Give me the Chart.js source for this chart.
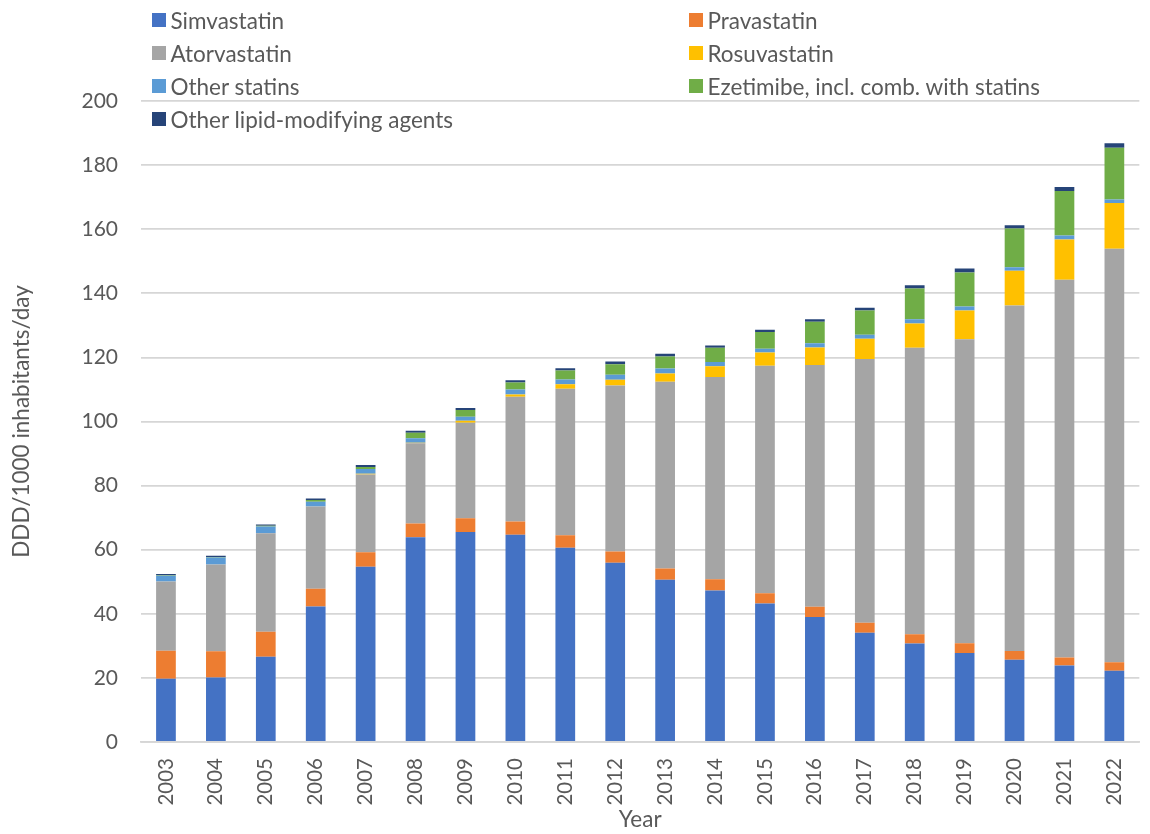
<!DOCTYPE html>
<html>
<head>
<meta charset="utf-8">
<script src="https://cdn.jsdelivr.net/npm/chart.js@4"></script>
<style>
  body { margin: 0; overflow: hidden; background: #fff; font-family: Lato, sans-serif; }
  #wrap { position: relative; width: 1155px; height: 834px; }
  #chart { position: absolute; left: 0; top: 0; }
  .leg { position: absolute; display: flex; align-items: center; color: #595959; font-size: 22.5px; white-space: nowrap; height: 30px; }
  .leg span.box { width: 13.5px; height: 13.5px; margin-right: 5px; display: inline-block; }
</style>
</head>
<body>
<div id="wrap">
  <canvas id="chart" width="1155" height="834"></canvas>
  <div id="legend"></div>
</div>
<script>
// statin use, DDD/1000 inhabitants/day
const years = ['2003','2004','2005','2006','2007','2008','2009','2010','2011','2012',
               '2013','2014','2015','2016','2017','2018','2019','2020','2021','2022'];

const simvastatin   = [19.7, 20.1, 26.6, 42.3, 54.7, 63.9, 65.5, 64.7, 60.6, 55.9, 50.6, 47.3, 43.2, 39.0, 34.1, 30.7, 27.8, 25.7, 23.9, 22.2];
const pravastatin   = [8.8, 8.2, 7.8, 5.5, 4.5, 4.3, 4.3, 4.1, 3.9, 3.5, 3.5, 3.5, 3.2, 3.2, 3.1, 2.9, 3.0, 2.7, 2.5, 2.7];
const atorvastatin  = [21.6, 27.1, 30.7, 25.7, 24.3, 25.0, 29.8, 38.9, 45.7, 51.8, 58.3, 63.1, 71.0, 75.4, 82.3, 89.4, 94.9, 107.8, 117.8, 129.0];
const rosuvastatin  = [0, 0, 0, 0, 0.2, 0.2, 0.6, 0.7, 1.4, 1.8, 2.6, 3.3, 4.1, 5.5, 6.3, 7.6, 8.9, 10.8, 12.6, 14.3];
const otherStatins  = [1.8, 2.2, 2.1, 1.5, 1.5, 1.4, 1.3, 1.6, 1.5, 1.6, 1.5, 1.4, 1.2, 1.3, 1.3, 1.3, 1.3, 1.1, 1.2, 1.1];
const ezetimibe     = [0.1, 0.1, 0.3, 0.5, 0.6, 1.7, 2.1, 2.2, 2.8, 3.3, 3.8, 4.4, 5.2, 6.7, 7.5, 9.6, 10.6, 12.1, 13.9, 16.1];
const otherLipid    = [0.4, 0.4, 0.4, 0.5, 0.6, 0.6, 0.6, 0.7, 0.7, 0.8, 0.8, 0.7, 0.7, 0.8, 0.9, 1.0, 1.2, 1.0, 1.3, 1.4];

const yTicks = [0, 20, 40, 60, 80, 100, 120, 140, 160, 180, 200];

const series = [
  { label: 'Simvastatin', data: simvastatin, color: '#4472C4' },
  { label: 'Pravastatin', data: pravastatin, color: '#ED7D31' },
  { label: 'Atorvastatin', data: atorvastatin, color: '#A5A5A5' },
  { label: 'Rosuvastatin', data: rosuvastatin, color: '#FFC000' },
  { label: 'Other statins', data: otherStatins, color: '#5B9BD5' },
  { label: 'Ezetimibe, incl. comb. with statins', data: ezetimibe, color: '#70AD47' },
  { label: 'Other lipid-modifying agents', data: otherLipid, color: '#264478' }
];

const textColor = '#595959';
const gridColor = '#d6d6d6';

const ctx = document.getElementById('chart').getContext('2d');
const chart = new Chart(ctx, {
  type: 'bar',
  data: {
    labels: years,
    datasets: series.map(s => ({
      label: s.label,
      data: s.data,
      backgroundColor: s.color,
      borderWidth: 0,
      barPercentage: 0.395,
      categoryPercentage: 1
    }))
  },
  options: {
    responsive: false,
    animation: false,
    layout: { padding: { top: 101, right: 1, left: 0, bottom: 0 } },
    plugins: {
      legend: { display: false },
      tooltip: { enabled: false }
    },
    scales: {
      x: {
        stacked: true,
        grid: { display: false, drawTicks: false },
        border: { display: true, color: gridColor, width: 1.8 },
        ticks: {
          color: textColor,
          font: { family: 'Lato', size: 20.5 },
          minRotation: 90,
          maxRotation: 90,
          autoSkip: false,
          padding: 16
        },
        title: {
          display: true,
          text: 'Year',
          color: textColor,
          font: { family: 'Lato', size: 22.5 },
          padding: { top: 0, bottom: 1 }
        },
        afterFit: scale => { scale.height = 92; }
      },
      y: {
        stacked: true,
        min: 0,
        max: 200,
        afterBuildTicks: scale => { scale.ticks = yTicks.map(v => ({ value: v })); },
        grid: { color: gridColor, lineWidth: 1.8, drawTicks: false },
        border: { display: false },
        ticks: {
          color: textColor,
          font: { family: 'Lato', size: 21 },
          padding: 23
        },
        title: {
          display: true,
          text: 'DDD/1000 inhabitants/day',
          color: textColor,
          font: { family: 'Lato', size: 22.5 },
          padding: { top: 8, bottom: 0 }
        },
        afterFit: scale => { scale.width = 141; }
      }
    }
  }
});

// legend in two columns, like the original
const legendPos = [
  [152, 5], [689, 5],
  [152, 38], [689, 38],
  [152, 71], [689, 71],
  [152, 104]
];
const legendEl = document.getElementById('legend');
series.forEach((s, i) => {
  const item = document.createElement('div');
  item.className = 'leg';
  item.style.left = legendPos[i][0] + 'px';
  item.style.top = legendPos[i][1] + 'px';
  item.innerHTML = '<span class="box" style="background:' + s.color + '"></span>' + s.label;
  legendEl.appendChild(item);
});
</script>
</body>
</html>
